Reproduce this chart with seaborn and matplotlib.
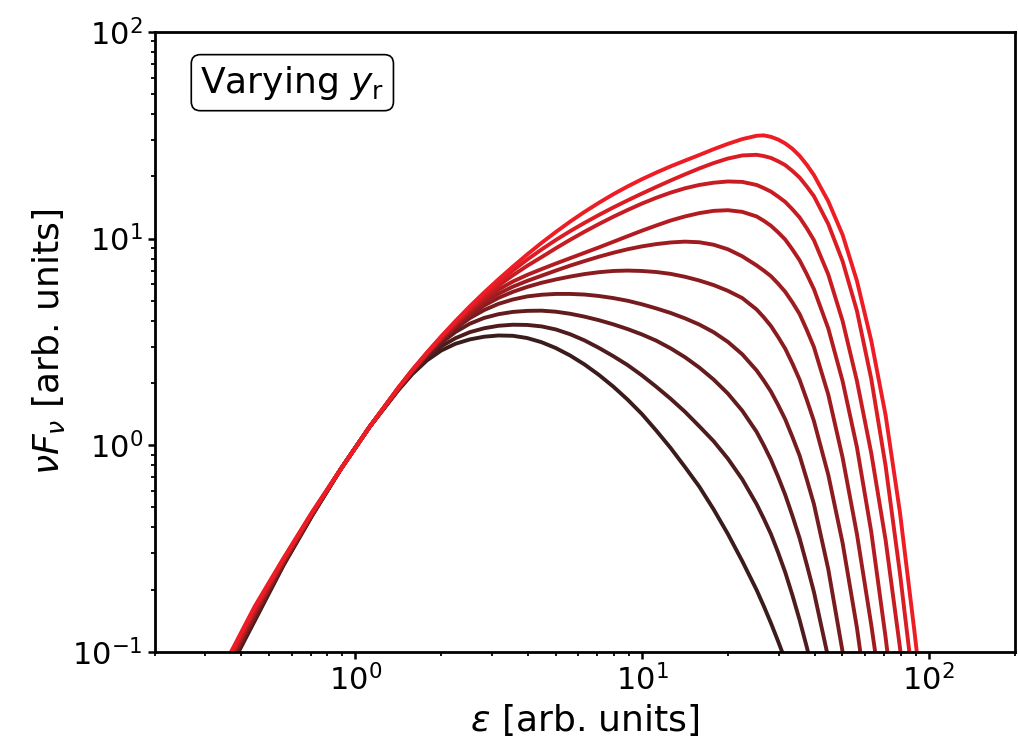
import matplotlib
matplotlib.use("Agg")
import matplotlib.pyplot as plt
import pandas as pd
import seaborn as sns

# energy grid shared by all the curves
energy = [0.355, 0.447, 0.562, 0.708, 0.891, 1.122,
          1.413, 1.585, 1.778, 1.995, 2.239, 2.512, 2.818, 3.162, 3.548, 3.981,
          4.467, 5.012, 5.623, 6.310, 7.079, 7.943, 8.913, 10.0, 11.22, 12.59,
          14.13, 15.85, 17.78, 19.95, 22.39, 25.12, 26.61, 28.18, 29.85, 31.62,
          33.50, 35.48, 37.58, 39.81, 44.67, 50.12, 56.23, 63.10, 70.79, 79.43,
          89.13, 100.0]

# nuFnu for each y_r value (lowest -> highest)
flux_1 = [0.0767, 0.1419, 0.2618, 0.4565, 0.767, 1.225,
          1.845, 2.213, 2.570, 2.871, 3.097, 3.251, 3.350, 3.396, 3.384, 3.300,
          3.151, 2.951, 2.716, 2.458, 2.190, 1.923, 1.663, 1.416, 1.178, 0.9705,
          0.785, 0.631, 0.490, 0.372, 0.275, 0.1995, 0.1667, 0.138, 0.1127,
          0.0912]
flux_2 = [0.0782, 0.1445, 0.2642, 0.4586, 0.767, 1.225,
          1.854, 2.239, 2.642, 3.006, 3.296, 3.524, 3.681, 3.784, 3.828, 3.819,
          3.758, 3.631, 3.443, 3.214, 2.958, 2.698, 2.443, 2.178, 1.919, 1.679,
          1.452, 1.236, 1.047, 0.861, 0.684, 0.519, 0.4416, 0.372, 0.3029,
          0.2427, 0.1879, 0.1429, 0.1057, 0.0767]
flux_3 = [0.0796, 0.1472, 0.2667, 0.4607, 0.767, 1.225,
          1.862, 2.259, 2.692, 3.126, 3.532, 3.873, 4.130, 4.305, 4.416, 4.467,
          4.477, 4.426, 4.325, 4.188, 4.027, 3.846, 3.648, 3.436, 3.206, 2.944,
          2.667, 2.377, 2.080, 1.778, 1.469, 1.161, 1.0, 0.851, 0.7047,
          0.575, 0.455, 0.355, 0.2649, 0.195, 0.0933]
flux_4 = [0.0809, 0.1496, 0.2688, 0.4624, 0.767, 1.225,
          1.871, 2.275, 2.723, 3.199, 3.673, 4.121, 4.508, 4.831, 5.070, 5.248,
          5.346, 5.395, 5.395, 5.358, 5.272, 5.152, 5.000, 4.808, 4.592, 4.365,
          4.111, 3.837, 3.524, 3.162, 2.754, 2.301, 2.056, 1.820, 1.567,
          1.334, 1.096, 0.891, 0.684, 0.519, 0.2512, 0.1, 0.0316]
flux_5 = [0.0824, 0.1524, 0.2713, 0.4645, 0.767, 1.225,
          1.875, 2.286, 2.742, 3.236, 3.750, 4.266, 4.742, 5.164, 5.521, 5.834,
          6.109, 6.339, 6.546, 6.730, 6.871, 6.966, 6.998, 6.966, 6.887, 6.745,
          6.531, 6.266, 5.957, 5.585, 5.152, 4.539, 4.159, 3.776, 3.342,
          2.931, 2.483, 2.075, 1.660, 1.309, 0.7194, 0.3365, 0.1309, 0.0414]
flux_6 = [0.0839, 0.1552, 0.2738, 0.4667, 0.767, 1.225,
          1.879, 2.291, 2.754, 3.266, 3.802, 4.365, 4.920, 5.408, 5.848, 6.237,
          6.607, 6.998, 7.396, 7.780, 8.166, 8.531, 8.872, 9.162, 9.397, 9.572,
          9.661, 9.594, 9.333, 8.872, 8.204, 7.413, 6.998, 6.577, 6.053,
          5.521, 4.909, 4.315, 3.614, 2.985, 1.758, 0.871, 0.3715, 0.1349,
          0.0447]
flux_7 = [0.0855, 0.1581, 0.2763, 0.4688, 0.767, 1.225,
          1.884, 2.301, 2.767, 3.296, 3.864, 4.467, 5.082, 5.662, 6.194, 6.668,
          7.112, 7.568, 8.035, 8.531, 9.057, 9.638, 10.26, 10.91, 11.56, 12.22,
          12.79, 13.27, 13.61, 13.71, 13.46, 12.79, 12.19, 11.53, 10.72,
          9.886, 8.851, 7.852, 6.730, 5.689, 3.673, 2.042, 0.977, 0.380,
          0.1175, 0.0316]
flux_8 = [0.0869, 0.1607, 0.2786, 0.4710, 0.767, 1.225,
          1.888, 2.307, 2.780, 3.319, 3.908, 4.550, 5.224, 5.916, 6.637, 7.379,
          8.128, 8.974, 9.863, 10.79, 11.75, 12.74, 13.74, 14.76, 15.74, 16.67,
          17.50, 18.16, 18.62, 18.88, 18.79, 18.16, 17.54, 16.87, 15.96,
          15.03, 13.84, 12.65, 11.22, 9.817, 6.699, 3.990, 2.046, 0.9141,
          0.3475, 0.1050, 0.0264]
flux_9 = [0.0885, 0.1637, 0.2812, 0.4732, 0.767, 1.225,
          1.892, 2.317, 2.793, 3.342, 3.954, 4.624, 5.346, 6.138, 6.998, 7.907,
          8.851, 9.840, 10.86, 11.91, 13.00, 14.13, 15.29, 16.50, 17.76, 19.08,
          20.44, 21.83, 23.17, 24.38, 25.23, 25.41, 25.06, 24.55, 23.66,
          22.65, 21.23, 19.72, 17.86, 16.03, 11.75, 7.762, 4.467, 2.089,
          0.794, 0.240, 0.0631]
flux_10 = [0.0902, 0.1667, 0.2838, 0.4753, 0.767, 1.225,
           1.897, 2.323, 2.805, 3.357, 3.990, 4.699, 5.483, 6.353, 7.311, 8.375,
           9.528, 10.76, 12.08, 13.46, 14.89, 16.37, 17.86, 19.36, 20.84, 22.34,
           23.82, 25.35, 27.04, 28.71, 30.27, 31.41, 31.55, 31.05, 30.13,
           28.84, 27.16, 25.12, 22.75, 20.28, 15.14, 10.42, 6.237, 3.199,
           1.396, 0.4732, 0.1274, 0.0316]

curves = [flux_1, flux_2, flux_3, flux_4, flux_5,
          flux_6, flux_7, flux_8, flux_9, flux_10]

# long-form table for seaborn
rows = []
for k, flux in enumerate(curves):
    for e, f in zip(energy, flux):
        rows.append({"curve": k, "energy": e, "flux": f})
df = pd.DataFrame(rows)

sns.set_style("ticks", {"axes.edgecolor": "black", "axes.labelcolor": "black",
                        "xtick.color": "black", "ytick.color": "black",
                        "text.color": "black"})
plt.rcParams["font.family"] = ["DejaVu Sans"]
plt.rcParams["mathtext.fontset"] = "dejavusans"

colores = sns.blend_palette(["#3a1c1c", "#ee1c24"], len(curves))

fig = plt.figure(figsize=(10.18, 7.4), dpi=100)
ax = fig.add_axes([0.152, 0.119, 0.845, 0.838])
ax.set_xscale("log")
ax.set_yscale("log")

sns.lineplot(data=df, x="energy", y="flux", hue="curve", palette=colores,
             estimator=None, sort=False, legend=False, lw=2.8, ax=ax)

ax.set_xlim(0.2, 200)
ax.set_ylim(0.1, 100)

ax.set_xlabel(r"$\epsilon$ [arb. units]", fontsize=26)
ax.set_ylabel(r"$\nu F_\nu$ [arb. units]", fontsize=26)
ax.tick_params(which="major", direction="out", length=5, width=1.8,
               labelsize=22, top=False, right=False)
ax.tick_params(which="minor", direction="out", length=3, width=1.3,
               top=False, right=False)
for s in ax.spines.values():
    s.set_linewidth(2.0)
    s.set_color("black")

ax.text(0.160, 0.918, r"Varying $y_\mathrm{r}$", transform=ax.transAxes,
        fontsize=26, ha="center", va="center",
        bbox=dict(boxstyle="round,pad=0.25", fc="white", ec="black", lw=1.2))

fig.savefig("out.png", dpi=100)
